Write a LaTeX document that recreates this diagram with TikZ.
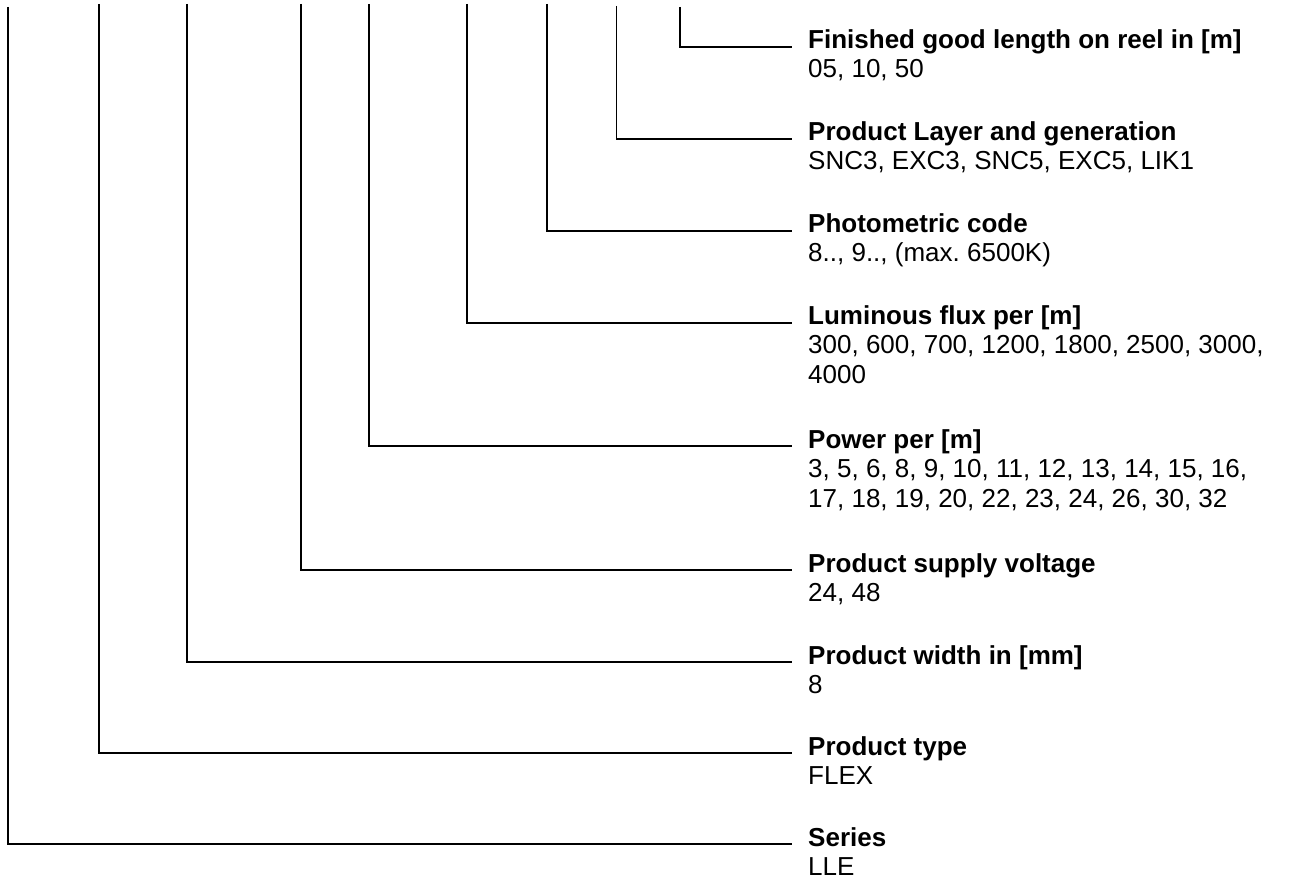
\documentclass[tikz,border=0pt]{standalone}
\usepackage{fontspec}
\setmainfont{Liberation Sans}
\frenchspacing
\begin{document}
\begin{tikzpicture}[x=1pt,y=-1pt,
  lead/.style={line width=1.5pt,black},
  ttl/.style={anchor=base west,inner sep=0pt,font=\fontsize{26}{30}\selectfont\bfseries},
  val/.style={anchor=base west,inner sep=0pt,font=\fontsize{26}{30}\selectfont}]
\useasboundingbox (0,0) rectangle (1290,882);
% labels
\node[ttl] (T9) at (808,49) {Finished good length on reel in [m]};
\node[val] (V9) at (808,78) {05, 10, 50};
\node[ttl] (T8) at (808,141) {Product Layer and generation};
\node[val] (V8) at (808,170) {SNC3, EXC3, SNC5, EXC5, LIK1};
\node[ttl] (T7) at (808,233) {Photometric code};
\node[val] (V7) at (808,262) {8.., 9.., (max.\ 6500K)};
\node[ttl] (T6) at (808,325) {Luminous flux per [m]};
\node[val] (V6a) at (808,354) {300, 600, 700, 1200, 1800, 2500, 3000,};
\node[val] (V6b) at (808,384) {4000};
\node[ttl] (T5) at (808,448) {Power per [m]};
\node[val] (V5a) at (808,477) {3, 5, 6, 8, 9, 10, 11, 12, 13, 14, 15, 16,};
\node[val] (V5b) at (808,507) {17, 18, 19, 20, 22, 23, 24, 26, 30, 32};
\node[ttl] (T4) at (808,572) {Product supply voltage};
\node[val] (V4) at (808,601) {24, 48};
\node[ttl] (T3) at (808,664) {Product width in [mm]};
\node[val] (V3) at (808,693) {8};
\node[ttl] (T2) at (808,755) {Product type};
\node[val] (V2) at (808,784) {FLEX};
\node[ttl] (T1) at (808,846) {Series};
\node[val] (V1) at (808,875) {LLE};
% top ends of the leaders
\coordinate (t1) at (8,7);
\coordinate (t2) at (99,4);
\coordinate (t3) at (187,4);
\coordinate (t4) at (301,4);
\coordinate (t5) at (369,4);
\coordinate (t6) at (467,4);
\coordinate (t7) at (547,4);
\coordinate (t8) at (616.5,6);
\coordinate (t9) at (680,7);
% leaders
\foreach \i in {1,...,9}{
  \draw[lead] (t\i) |- ([xshift=-16pt,yshift=2pt]T\i.base west);
}
\end{tikzpicture}
\end{document}
